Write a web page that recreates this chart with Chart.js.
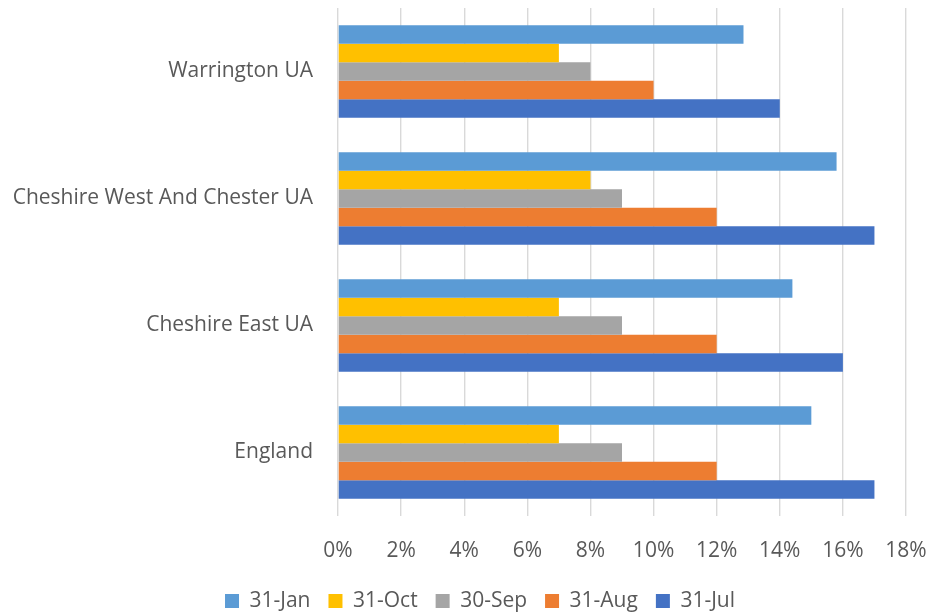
<!DOCTYPE html>
<html>
<head>
<meta charset="utf-8">
<script src="https://cdn.jsdelivr.net/npm/chart.js@4"></script>
<style>
  html, body { margin: 0; padding: 0; background: #fff; }
  #wrap { width: 931px; height: 616px; }
</style>
</head>
<body>
<div id="wrap"><canvas id="barChart" width="931" height="616"></canvas></div>
<script>
const areas = ['Warrington UA', 'Cheshire West And Chester UA', 'Cheshire East UA', 'England'];
const seriesNames = ['31-Jan', '31-Oct', '30-Sep', '31-Aug', '31-Jul'];
const seriesColors = ['#5B9BD5', '#FFC000', '#A5A5A5', '#ED7D31', '#4472C4'];

// values in %, one array per date, in the order of areas
const jan = [12.85, 15.8, 14.4, 15.0];
const oct = [7, 8, 7, 7];
const sep = [8, 9, 9, 9];
const aug = [10, 12, 12, 12];
const jul = [14, 17, 16, 17];

const xTicks = [0, 2, 4, 6, 8, 10, 12, 14, 16, 18];

const fontFamily = "'Open Sans', 'Liberation Sans', sans-serif";
const textColor = '#595959';
const fontSize = 21;

// where the plot area sits in the reference
const target = { left: 338, top: 8, right: 906, bottom: 516 };
const legendCenter = { x: 480, y: 603 };

let pad = { top: 8, right: 25, left: 0, bottom: 0 };
let yAxisW = 338;
let xAxisH = 62;

// move the legend to the spot it has in the reference
const legendPlace = {
    id: 'legendPlace',
    afterLayout(chart) {
        const lg = chart.legend;
        if (!lg) return;
        const w = lg.right - lg.left;
        lg.left = legendCenter.x - w / 2;
        lg.right = legendCenter.x + w / 2;
        const lp = lg.options.labels.padding;
        lg.top = legendCenter.y - lp - fontSize * 1.2 / 2;
    }
};

const ctx = document.getElementById('barChart').getContext('2d');
const chart = new Chart(ctx, {
    type: 'bar',
    data: {
        labels: areas,
        datasets: [jan, oct, sep, aug, jul].map((vals, i) => ({
            label: seriesNames[i],
            data: vals,
            backgroundColor: seriesColors[i],
            borderWidth: 0,
            categoryPercentage: 0.73,
            barPercentage: 1.0
        }))
    },
    options: {
        indexAxis: 'y',
        responsive: false,
        animation: false,
        layout: { padding: pad },
        plugins: {
            tooltip: { enabled: false },
            legend: {
                position: 'bottom',
                labels: {
                    color: textColor,
                    font: { family: fontFamily, size: fontSize },
                    boxWidth: 14,
                    boxHeight: 14,
                    padding: 18
                }
            }
        },
        scales: {
            x: {
                min: 0,
                max: 18,
                afterBuildTicks: (scale) => { scale.ticks = xTicks.map(v => ({ value: v })); },
                grid: { color: '#D9D9D9', lineWidth: 1.4, drawTicks: false },
                border: { display: false },
                ticks: {
                    color: textColor,
                    font: { family: fontFamily, size: fontSize },
                    padding: 22,
                    callback: (v) => v + '%'
                },
                afterFit: (scale) => {
                    scale.height = xAxisH;
                    scale.paddingLeft = 0;
                    scale.paddingRight = 0;
                }
            },
            y: {
                grid: { display: false, drawTicks: false },
                border: { display: false },
                ticks: {
                    color: textColor,
                    font: { family: fontFamily, size: fontSize },
                    padding: 25
                },
                afterFit: (scale) => {
                    scale.width = yAxisW;
                    scale.paddingTop = 0;
                    scale.paddingBottom = 0;
                }
            }
        }
    },
    plugins: [legendPlace]
});

// nudge the paddings until the plot area lands where it is in the reference
for (let pass = 0; pass < 3; pass++) {
    const a = chart.chartArea;
    pad.top += target.top - a.top;
    pad.right += a.right - target.right;
    yAxisW += target.left - a.left;
    xAxisH += a.bottom - target.bottom;
    chart.options.layout.padding = { ...pad };
    chart.update();
}
</script>
</body>
</html>
